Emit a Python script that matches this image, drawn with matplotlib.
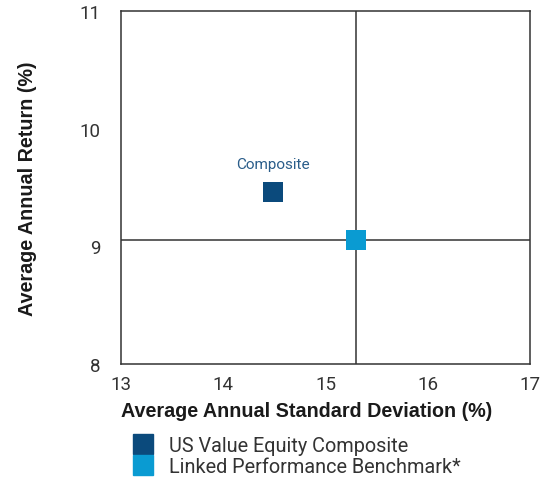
import matplotlib.pyplot as plt
from matplotlib.lines import Line2D

# risk / return values
names = ["US Value Equity Composite", "Linked Performance Benchmark*"]
std_dev = [14.49, 15.30]
returns = [9.46, 9.05]
colors = ["#0b4a7c", "#0a9bd2"]

x_ticks = [13, 14, 15, 16, 17]
y_ticks = [8, 9, 10, 11]

plt.rcParams['font.family'] = ['Roboto', 'DejaVu Sans']

fig = plt.figure(figsize=(5.44, 4.85), dpi=100)
ax = fig.add_axes([0.2224, 0.2474, 0.7521, 0.7279])

# crosshair through the benchmark
ax.axvline(std_dev[1], color="#333333", lw=1.1, zorder=1)
ax.axhline(returns[1], color="#333333", lw=1.1, zorder=1)

handles = []
for x, y, c, name in zip(std_dev, returns, colors, names):
    ax.scatter([x], [y], s=205, marker="s", color=c, zorder=3, linewidths=0)
    handles.append(Line2D([], [], marker="s", color=c, linestyle="none",
                          markersize=14.5, label=name))

ax.annotate("Composite", (std_dev[0], returns[0]), xytext=(0, 20),
            textcoords="offset points", ha="center", va="center",
            fontsize=11, color="#2a5d8a")

ax.set_xlim(x_ticks[0], x_ticks[-1])
ax.set_ylim(y_ticks[0], y_ticks[-1])
ax.set_xticks(x_ticks)
ax.set_yticks(y_ticks)
ax.tick_params(length=0, labelsize=13.5, colors="#333333")
ax.tick_params(axis="x", pad=8)
ax.tick_params(axis="y", pad=15)

for sp in ax.spines.values():
    sp.set_color("#333333")
    sp.set_linewidth(1.1)

ax.set_xlabel("Average Annual Standard Deviation (%)", fontsize=14.2,
              fontweight="bold", color="#1a1a1a", labelpad=6,
              family=["Liberation Sans"], loc="left")
ax.set_ylabel("Average Annual Return (%)", fontsize=14.2,
              fontweight="bold", color="#1a1a1a", labelpad=30,
              family=["Liberation Sans"])

fig.legend(handles=handles, loc="upper left", bbox_to_anchor=(0.228, 0.12),
           frameon=False, fontsize=14.3, handlelength=0.9, handletextpad=0.85,
           labelspacing=0.12, borderpad=0, labelcolor="#333333")

fig.savefig("out.png", dpi=100)
